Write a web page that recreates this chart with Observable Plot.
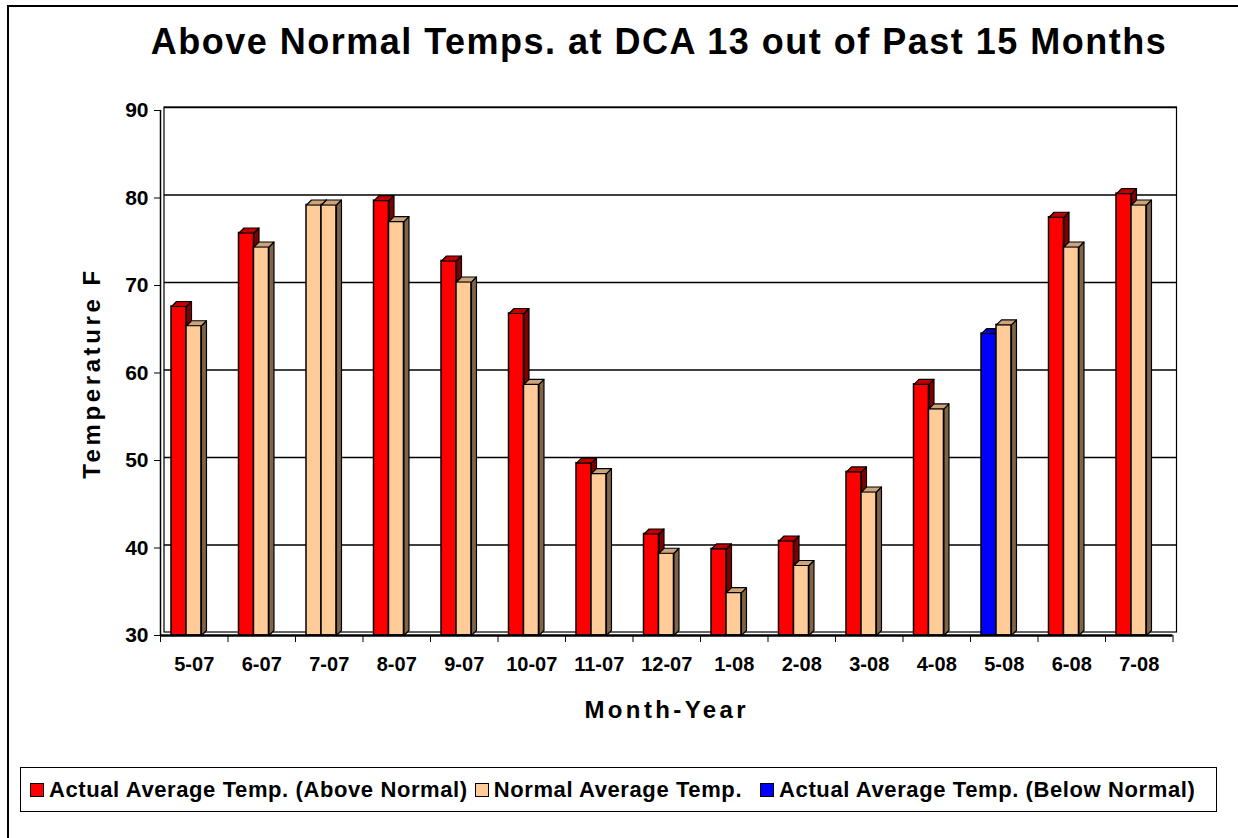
<!DOCTYPE html>
<html>
<head>
<meta charset="utf-8">
<script src="https://cdn.jsdelivr.net/npm/d3@7"></script>
<script src="https://cdn.jsdelivr.net/npm/@observablehq/plot@0.6"></script>
<style>
  html, body { margin: 0; padding: 0; background: #fff; overflow: hidden; }
  #page { position: relative; width: 1238px; height: 838px; overflow: hidden; font-family: "Liberation Sans", Arial, sans-serif; }
  #frame { position: absolute; left: 7px; top: 5px; width: 1400px; height: 1000px; border: 2px solid #000; box-sizing: border-box; }
  #title { position: absolute; left: 0; width: 1318px; top: 21px; text-align: center; font-weight: bold; font-size: 36px; letter-spacing: 1.5px; color: #000; }
  #chart { position: absolute; left: 0; top: 0; }
  #legend { position: absolute; left: 20px; top: 767px; width: 1197px; height: 45px; border: 1px solid #000; box-sizing: border-box; display: flex; align-items: center; padding-left: 9px; font-weight: bold; font-size: 22px; letter-spacing: 0.6px; white-space: nowrap; }
  .item { display: flex; align-items: center; margin-right: 7px; }
  .item:nth-child(2) { margin-right: 18px; }
  .sw { width: 12px; height: 12px; border: 1px solid #000; margin-right: 5px; }
</style>
</head>
<body>
<div id="page">
  <div id="frame"></div>
  <div id="chart"></div>
  <div id="title"></div>
  <div id="legend"></div>
</div>
<script>
const titleText = "Above Normal Temps. at DCA 13 out of Past 15 Months";
const months = ["5-07","6-07","7-07","8-07","9-07","10-07","11-07","12-07","1-08","2-08","3-08","4-08","5-08","6-08","7-08"];
const actual = [67.6, 76.0, 79.2, 79.7, 72.8, 66.8, 49.7, 41.6, 39.9, 40.8, 48.7, 58.7, 64.5, 77.8, 80.5];
const normal = [65.4, 74.4, 79.2, 77.3, 70.4, 58.7, 48.5, 39.4, 34.9, 38.0, 46.4, 55.9, 65.5, 74.4, 79.2];
const yTicks = [30, 40, 50, 60, 70, 80, 90];
const seriesNames = ["Actual Average Temp. (Above Normal)", "Normal Average Temp.", "Actual Average Temp. (Below Normal)"];
const seriesColors = ["#FF0000", "#FFCC99", "#0000FF"];
const sideColors = {"#FF0000": "#800000", "#FFCC99": "#806448", "#0000FF": "#000080"};
const topColors = {"#FF0000": "#C00000", "#FFCC99": "#CCA37A", "#0000FF": "#0000C0"};
const yLabel = "Temperature F";
const xLabel = "Month-Year";

document.getElementById("title").textContent = titleText;

// bar geometry (in category units) and 3D depth
const barStart = 0.163, barW = 0.222, depthX = 0.074, depthY = 0.57, base = 30;

function actualColor(i) {
  if (actual[i] > normal[i]) return seriesColors[0];
  if (actual[i] < normal[i]) return seriesColors[2];
  return seriesColors[1];
}

function buildBars(values, offset, colorFn) {
  return values.map((v, i) => ({i, v, x1: i + barStart + offset * barW, x2: i + barStart + (offset + 1) * barW, color: colorFn(i)}));
}
const barsA = buildBars(actual, 0, actualColor);
const barsN = buildBars(normal, 1, () => seriesColors[1]);

function sidePolys(bars, tag) {
  const pts = [];
  bars.forEach(b => {
    const id = tag + "s" + b.i, c = sideColors[b.color];
    pts.push({id, c, x: b.x2, y: base});
    pts.push({id, c, x: b.x2, y: b.v});
    pts.push({id, c, x: b.x2 + depthX, y: b.v + depthY});
    pts.push({id, c, x: b.x2 + depthX, y: base + depthY});
  });
  return pts;
}
function topPolys(bars, tag) {
  const pts = [];
  bars.forEach(b => {
    const id = tag + "t" + b.i, c = topColors[b.color];
    pts.push({id, c, x: b.x1, y: b.v});
    pts.push({id, c, x: b.x1 + depthX, y: b.v + depthY});
    pts.push({id, c, x: b.x2 + depthX, y: b.v + depthY});
    pts.push({id, c, x: b.x2, y: b.v});
  });
  return pts;
}

function barMarks(bars, tag) {
  return [
    Plot.rect(bars, {x1: "x1", x2: "x2", y1: base, y2: "v", fill: "color", stroke: "#000", strokeWidth: 1.5}),
    Plot.line(sidePolys(bars, tag), {x: "x", y: "y", z: "id", fill: "c", stroke: "#000", strokeWidth: 1.2, curve: "linear-closed"}),
    Plot.line(topPolys(bars, tag), {x: "x", y: "y", z: "id", fill: "c", stroke: "#000", strokeWidth: 1.2, curve: "linear-closed"})
  ];
}

const n = months.length;
const chart = Plot.plot({
  width: 1238,
  height: 740,
  marginLeft: 160,
  marginRight: 65.5,
  marginTop: 110,
  marginBottom: 105,
  style: {fontFamily: "'Liberation Sans', Arial, sans-serif", background: "transparent", color: "#000"},
  x: {domain: [0, n], axis: null},
  y: {domain: [30, 90], axis: null},
  color: {type: "identity"},
  marks: [
    // back wall gridlines
    Plot.ruleY(yTicks.slice(1), {x1: 0, x2: n, dx: 4, dy: -3, stroke: "#000", strokeWidth: 1.5}),
    Plot.rect([0], {x1: 0, x2: n, y1: 30, y2: 90, dx: 4, dy: -3, fill: "none", stroke: "#000", strokeWidth: 1.2}),
    // front axis lines
    Plot.ruleX([0], {y1: 30, y2: 90, stroke: "#000", strokeWidth: 1.5}),
    ...barMarks(barsA, "a"),
    ...barMarks(barsN, "n"),
    Plot.ruleY([30], {x1: 0, x2: n, stroke: "#000", strokeWidth: 2.5}),
    // y axis
    Plot.axisY({ticks: yTicks, tickSize: 6, tickPadding: 6, fontSize: 21, fontWeight: "bold", tickFormat: d => d}),
    // x tick marks at category boundaries
    Plot.axisX({ticks: d3.range(0, n + 1), tickSize: 7, tickFormat: () => ""}),
    // x category labels
    Plot.text(months, {x: (d, i) => i + 0.5, y: 30, dy: 29, text: d => d, fontSize: 20, fontWeight: "bold", lineAnchor: "middle"}),
    // axis titles
    Plot.text([yLabel], {frameAnchor: "left", textAnchor: "middle", rotate: -90, dx: -68, text: d => d, fontSize: 24, fontWeight: "bold"}),
    Plot.text([xLabel], {frameAnchor: "bottom", dy: 82, text: d => d, fontSize: 24, fontWeight: "bold"})
  ]
});
// widen the axis titles like the original's spaced lettering
d3.select(chart).selectAll("text").filter(function() { return this.textContent === yLabel; }).style("letter-spacing", "3.6px");
d3.select(chart).selectAll("text").filter(function() { return this.textContent === xLabel; }).style("letter-spacing", "3.4px");
document.getElementById("chart").appendChild(chart);

// legend
const legend = document.getElementById("legend");
seriesNames.forEach((name, k) => {
  const item = document.createElement("div");
  item.className = "item";
  const sw = document.createElement("div");
  sw.className = "sw";
  sw.style.background = seriesColors[k];
  const t = document.createElement("span");
  t.textContent = name;
  item.appendChild(sw);
  item.appendChild(t);
  legend.appendChild(item);
});
</script>
</body>
</html>
